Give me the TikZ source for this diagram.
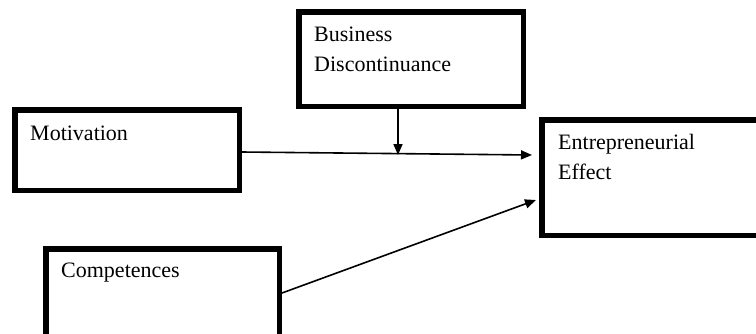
\documentclass[tikz,border=0pt]{standalone}
\usepackage{fontspec}
\setmainfont{Liberation Serif}
\usetikzlibrary{arrows.meta,calc}
\begin{document}
\begin{tikzpicture}[x=1pt,y=-1pt,
  box/.style={draw=black, line width=5.5pt, inner sep=0pt},
  lbl/.style={inner sep=0pt, anchor=base west, align=left, text width=200pt,
    font=\fontsize{22}{30}\selectfont},
  arr/.style={line width=1.6pt, -{Triangle[length=11pt,width=9pt]}}]
\clip (0,0) rectangle (756,333);
\fill[white] (0,0) rectangle (756,333);
% boxes
\node[box, minimum width=224.5pt, minimum height=94.5pt] (bus) at (411,59) {};
\node[box, minimum width=224.5pt, minimum height=80.5pt] (mot) at (127,150) {};
\node[box, minimum width=255.5pt, minimum height=115.5pt] (ent) at (669.5,177.5) {};
\node[box, minimum width=233.5pt, minimum height=118.5pt] (comp) at (162.5,308) {};
% texts
\node[lbl] (busT) at (314,41) {Business\\Discontinuance};
\node[lbl] (motT) at (30,140) {Motivation};
\node[lbl] (entT) at (558,149) {Entrepreneurial\\Effect};
\node[lbl] (compT) at (61,277) {Competences};
% connectors
\draw[arr] ($(mot.east)+(0,2)$) -- ($(ent.west)+(-7,-22.5)$);
\draw[arr] ($(bus.south)+(-13,0)$) -- ($(bus.south)+(-13,46)$);
\draw[arr] ($(comp.east)+(0,-15)$) -- ($(ent.west)+(-3,22.5)$);
\end{tikzpicture}
\end{document}
